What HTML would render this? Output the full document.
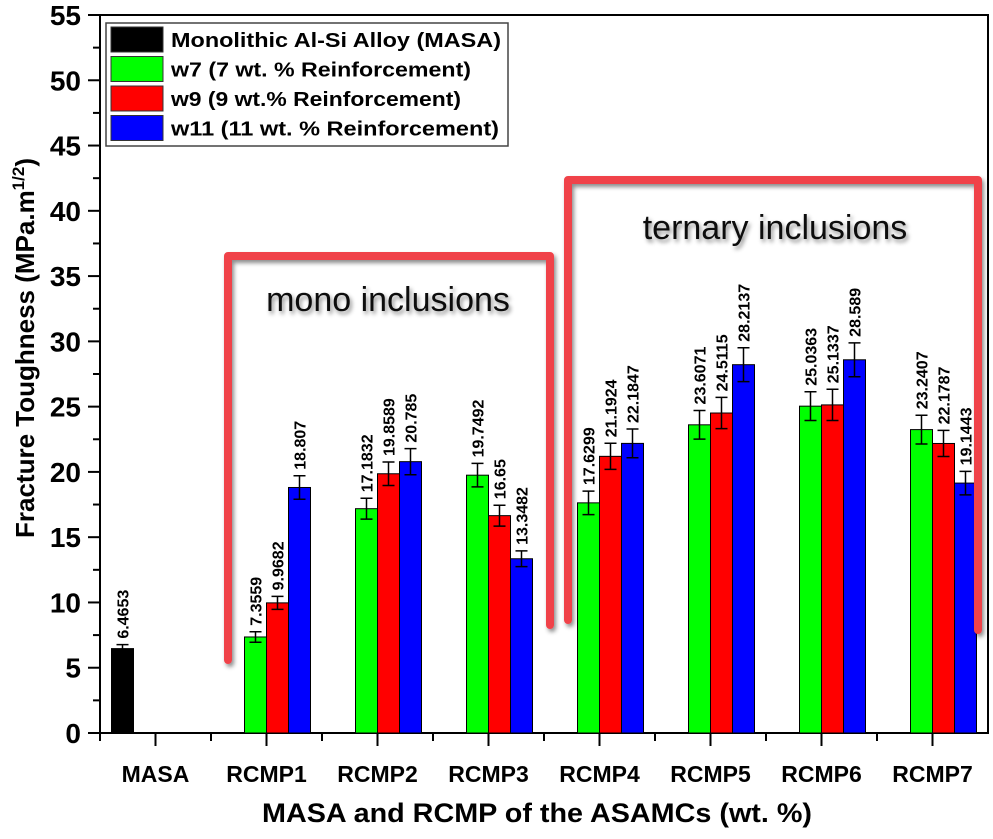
<!DOCTYPE html>
<html><head><meta charset="utf-8"><style>
body{margin:0;background:#fff}
svg text{font-family:"Liberation Sans",Arial,sans-serif}
</style></head><body>
<svg id="c" width="993" height="834" viewBox="0 0 993 834" xmlns="http://www.w3.org/2000/svg">
<defs><filter id="sh" x="-10%" y="-10%" width="130%" height="140%"><feDropShadow dx="2" dy="3" stdDeviation="2" flood-color="#000" flood-opacity="0.45"/></filter></defs>
<g id="plot"></g>
</svg>
<script>
const categories=["MASA","RCMP1","RCMP2","RCMP3","RCMP4","RCMP5","RCMP6","RCMP7"];
const masaVals=[6.4653,null,null,null,null,null,null,null];
const w7Vals=[null,7.3559,17.1832,19.7492,17.6299,23.6071,25.0363,23.2407];
const w9Vals=[null,9.9682,19.8589,16.65,21.1924,24.5115,25.1337,22.1787];
const w11Vals=[null,18.807,20.785,13.3482,22.1847,28.2137,28.589,19.1443];
const masaErr=[0.3,0,0,0,0,0,0,0];
const w7Err=[0,0.4,0.8,0.9,0.9,1.1,1.1,1.1];
const w9Err=[0,0.5,0.9,0.8,1.0,1.2,1.2,1.0];
const w11Err=[0,0.9,1.0,0.6,1.1,1.3,1.3,0.9];
const yTicks=[0,5,10,15,20,25,30,35,40,45,50,55];
const ns="http://www.w3.org/2000/svg";
const L=100,R=988,T=15,B=733;
const yS=v=>B-(v/55)*(B-T);
const xS=i=>L+(i+0.5)*(R-L)/categories.length;
const g=document.getElementById('plot');
function mk(t,a,txt){const e=document.createElementNS(ns,t);for(const k in a)e.setAttribute(k,a[k]);if(txt!=null)e.textContent=txt;g.appendChild(e);return e;}
let fr=mk('rect',{x:L,y:T,width:R-L,height:B-T,fill:'none',stroke:'#000','stroke-width':2});


yTicks.forEach(v=>{
 let t=mk('line',{x1:L-12,x2:L,y1:yS(v),y2:yS(v),stroke:'#000','stroke-width':2});
 
 
 if(v<55){let m=mk('line',{x1:L-7,x2:L,y1:yS(v+2.5),y2:yS(v+2.5),stroke:'#000','stroke-width':2});
 
 }
 let l=mk('text',{x:L-19,y:yS(v)+10,'text-anchor':'end','font-size':28,'font-weight':'bold'},v);
 
 
});
categories.forEach((c,i)=>{
 let t=mk('line',{x1:xS(i),x2:xS(i),y1:B,y2:B+13,stroke:'#000','stroke-width':2});
 
 
 let m=mk('line',{x1:xS(i)-55.5,x2:xS(i)-55.5,y1:B,y2:B+8,stroke:'#000','stroke-width':2});
 
 
 let l=mk('text',{x:xS(i),y:782,'text-anchor':'middle','font-size':23,'font-weight':'bold'},c);
 
 
});
const series=[[masaVals,masaErr,'#000000',-44,'masa'],[w7Vals,w7Err,'#00ff00',-22,'w7'],[w9Vals,w9Err,'#ff0000',0,'w9'],[w11Vals,w11Err,'#0000ff',22,'w11']];
series.forEach(([vals,errs,col,off,nm])=>{
 vals.forEach((v,i)=>{
  if(v==null)return;
  const x=xS(i)+off;
  let b=mk('rect',{x:x,y:yS(v),width:22,height:B-yS(v),fill:col,stroke:'#000','stroke-width':1});
  
  
  const cx=x+11,e=errs[i];
  let eb=mk('path',{d:`M${cx},${yS(v-e)}V${yS(v+e)}M${cx-6},${yS(v+e)}H${cx+6}M${cx-6},${yS(v-e)}H${cx+6}`,stroke:'#000','stroke-width':1.5,fill:'none'});
  
  
  const ty=yS(v+e)-6;
  let l=mk('text',{x:cx+6,y:ty,transform:`rotate(-90 ${cx+6} ${ty})`,'font-size':16,'font-weight':'bold'},String(v));
  
  
 });
});
let b1=mk('path',{d:'M228,660V256H550V625',fill:'none',stroke:'#f0434a','stroke-width':8,'stroke-linecap':'round','stroke-linejoin':'round',filter:'url(#sh)'});


let b2=mk('path',{d:'M568,620V180H978V630',fill:'none',stroke:'#f0434a','stroke-width':8,'stroke-linecap':'round','stroke-linejoin':'round',filter:'url(#sh)'});


let a1=mk('text',{x:388,y:311,'text-anchor':'middle','font-size':34,fill:'#111',filter:'url(#sh)'},'mono inclusions');


let a2=mk('text',{x:775,y:239,'text-anchor':'middle','font-size':34,fill:'#111',filter:'url(#sh)'},'ternary inclusions');


let lb=mk('rect',{x:106,y:23,width:402,height:123,fill:'#fff',stroke:'#444','stroke-width':1.5});


const legNames=['Monolithic Al-Si Alloy (MASA)','w7 (7 wt. % Reinforcement)','w9 (9 wt.% Reinforcement)','w11 (11 wt. % Reinforcement)'];
legNames.forEach((n,i)=>{
 const y=27+i*29.5;
 let s=mk('rect',{x:111,y:y,width:52,height:25,fill:series[i][2],stroke:'#333','stroke-width':1});
 
 
 let t=mk('text',{x:171,y:y+20,'font-size':20,'font-weight':'bold',textLength:i==0?330:(i==1?300:(i==2?290:328)),lengthAdjust:'spacingAndGlyphs'},n);
 
 
});
let xt=mk('text',{x:537,y:822,'text-anchor':'middle','font-size':27,'font-weight':'bold',textLength:550,lengthAdjust:'spacingAndGlyphs'},'MASA and RCMP of the ASAMCs (wt. %)');


let yt=mk('text',{x:0,y:0,transform:'translate(34,348) rotate(-90)','text-anchor':'middle','font-size':26,'font-weight':'bold'});


yt.innerHTML='Fracture Toughness (MPa.m<tspan dy="-10" font-size="17">1/2</tspan><tspan dy="10">)</tspan>';
</script>
</body></html>
